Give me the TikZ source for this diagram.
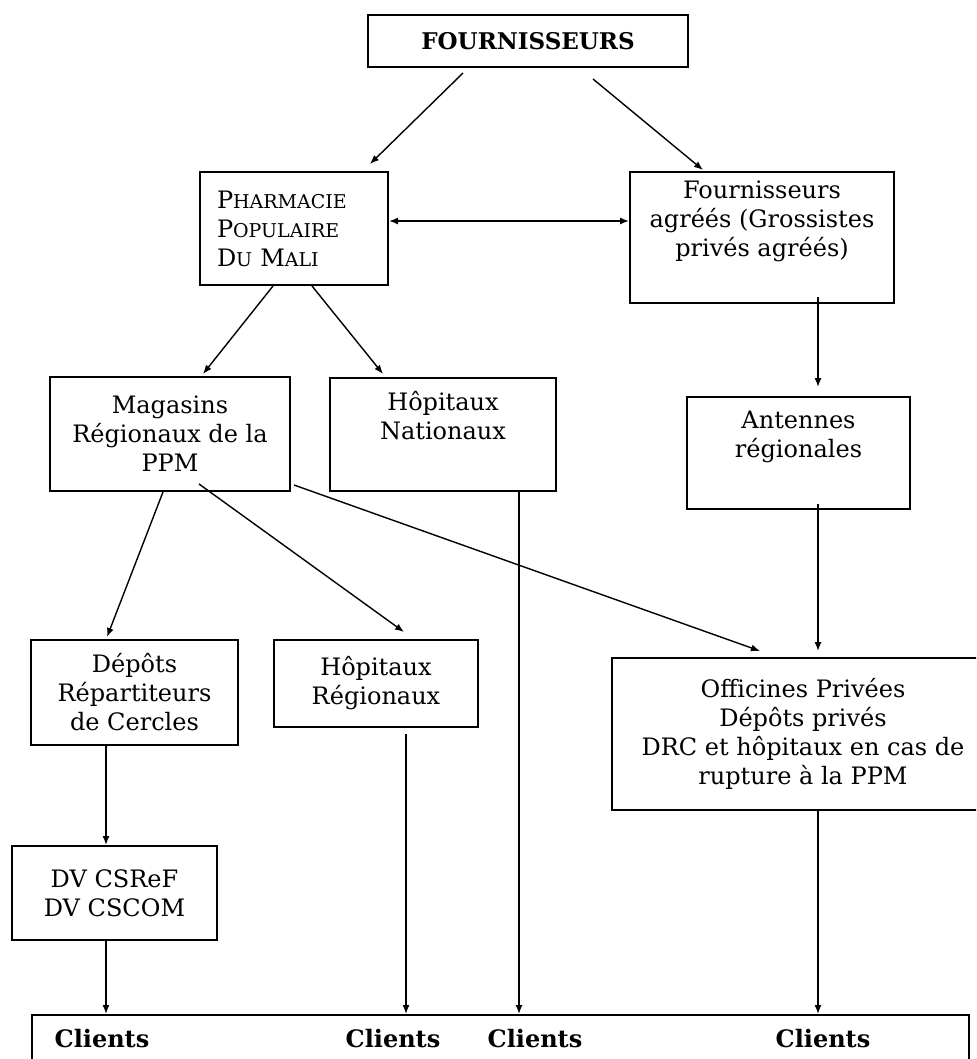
\documentclass[tikz,border=0pt]{standalone}
\usepackage{fontspec}
\setmainfont{DejaVu Serif}
\usetikzlibrary{arrows.meta}
\newcommand{\petit}[1]{{\fontsize{9.5}{14.5}\selectfont #1}}

\begin{document}
\begin{tikzpicture}[x=0.5pt, y=-0.5pt, >={Latex[length=4.5pt,width=3.5pt]},
 every node/.style={font=\fontsize{12}{14.5}\selectfont},
 bloc/.style={draw, line width=1pt, rectangle, align=center, inner sep=0pt},
 lien/.style={->, line width=0.7pt},
 client/.style={font=\fontsize{12}{14.5}\selectfont\bfseries}]

 \useasboundingbox (0,0) rectangle (976,1059);
 \clip (0,0) rectangle (976,1059);

 \node[bloc, minimum width=160pt, minimum height=26pt, font=\fontsize{11.5}{14.5}\selectfont\bfseries] (four) at (528,41) {FOURNISSEURS};
 \node[bloc, minimum width=94pt, minimum height=56.5pt, text width=77pt, align=left] (ppm) at (294,228.5) {P\petit{HARMACIE}\\P\petit{OPULAIRE}\\D\petit{U} M\petit{ALI}};
 \node[bloc, minimum width=132pt, minimum height=65.5pt] (fa) at (762,237.5) {Fournisseurs\\agréés (Grossistes\\privés agréés)\\ \strut};
 \node[bloc, minimum width=120pt, minimum height=57pt] (mag) at (170,434) {Magasins\\Régionaux de la\\PPM};
 \node[bloc, minimum width=113pt, minimum height=56.5pt] (hn) at (443,434.5) {Hôpitaux\\Nationaux\\ \strut};
 \node[bloc, minimum width=111.5pt, minimum height=56pt] (ant) at (798.5,453) {Antennes\\régionales\\ \strut};
 \node[bloc, minimum width=103.5pt, minimum height=52.5pt] (dep) at (134.5,692.5) {Dépôts\\Répartiteurs\\de Cercles};
 \node[bloc, minimum width=102pt, minimum height=43.5pt] (hr) at (376,683.5) {Hôpitaux\\Régionaux};
 \node[bloc, minimum width=191pt, minimum height=76pt] (off) at (803,734) {Officines Privées\\Dépôts privés\\DRC et hôpitaux en cas de\\rupture à la PPM};
 \node[bloc, minimum width=102.5pt, minimum height=47pt] (dv) at (114.5,893) {DV CSReF\\DV CSCOM};
 \node[bloc, minimum width=468.5pt, minimum height=40pt] (cli) at (500.5,1055) {};
 \node[client] (cl1) at (102,1039) {Clients};
 \node[client] (cl2) at (393,1039) {Clients};
 \node[client] (cl3) at (535,1039) {Clients};
 \node[client] (cl4) at (823,1039) {Clients};

 % liaisons
 \draw[lien] ([shift={(-65,5)}]four.south) -- ([shift={(76,-7)}]ppm.north);
 \draw[lien] ([shift={(65,11)}]four.south) -- ([shift={(-59,-1)}]fa.north);
 \draw[lien, <->] ([shift={(0,-7.5)}]ppm.east) -- ([shift={(0,-16.5)}]fa.west);
 \draw[lien] ([shift={(-21,0)}]ppm.south) -- ([shift={(33,-2)}]mag.north);
 \draw[lien] ([shift={(18,0)}]ppm.south) -- ([shift={(-60,-3)}]hn.north);
 \draw[lien] ([shift={(56,-7)}]fa.south) -- ([shift={(19.5,-9)}]ant.north);
 \draw[lien] ([shift={(-7,0)}]mag.south) -- ([shift={(-27.5,-2)}]dep.north);
 \draw[lien] ([shift={(29,-8)}]mag.south) -- ([shift={(28,-7)}]hr.north);
 \draw[lien] ([shift={(3,-7)}]mag.south east) -- ([shift={(-43,-6)}]off.north);
 \draw[lien] ([shift={(19.5,-6)}]ant.south) -- ([shift={(15,-6)}]off.north);
 \draw[lien] ([shift={(-28.5,0)}]dep.south) -- ([shift={(-8.5,0)}]dv.north);
 % vers les clients
 \draw[lien] ([shift={(-8.5,0)}]dv.south) coordinate (d1) -- (d1 |- cli.north);
 \draw[lien] ([shift={(30,6)}]hr.south) coordinate (d2) -- (d2 |- cli.north);
 \draw[lien] ([shift={(76,0)}]hn.south) coordinate (d3) -- (d3 |- cli.north);
 \draw[lien] ([shift={(15,0)}]off.south) coordinate (d4) -- (d4 |- cli.north);
\end{tikzpicture}
\end{document}
